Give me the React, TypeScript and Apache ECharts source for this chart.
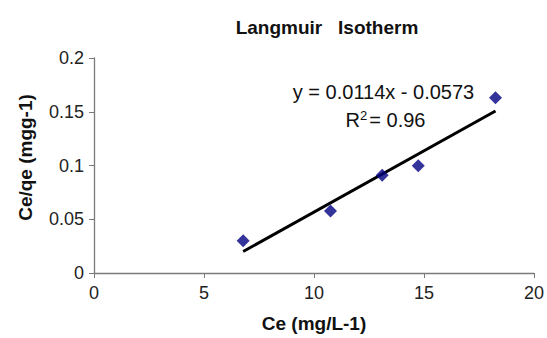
import React, { useEffect, useRef } from "react";
import * as echarts from "echarts";

const ceValues = [6.78, 10.75, 13.1, 14.74, 18.25];
const ceQeValues = [0.03, 0.0577, 0.091, 0.0997, 0.163];
const slope = 0.0114;
const intercept = -0.0573;
const titleText = "Langmuir   Isotherm";
const xLabel = "Ce (mg/L-1)";
const yLabel = "Ce/qe (mgg-1)";
const equationText = "y = 0.0114x - 0.0573";

export default function App() {
  const ref = useRef<HTMLDivElement>(null);
  useEffect(() => {
    if (!ref.current) return;
    const chart = echarts.init(ref.current, undefined, { renderer: "svg" });
    const xMin = Math.min(...ceValues);
    const xMax = Math.max(...ceValues);
    const trend = [
      [xMin, slope * xMin + intercept],
      [xMax, slope * xMax + intercept],
    ];
    const font = "Liberation Sans, Arial, sans-serif";
    chart.setOption({
      animation: false,
      backgroundColor: "#fff",
      title: {
        text: titleText,
        left: 322,
        top: 13,
        textAlign: "center",
        textStyle: { fontFamily: font, fontSize: 19, fontWeight: "bold", color: "#111" },
      },
      grid: { left: 94, right: 11, top: 58, bottom: 63 },
      xAxis: {
        type: "value",
        min: 0,
        max: 20,
        interval: 5,
        name: xLabel,
        nameLocation: "middle",
        nameGap: 41,
        nameTextStyle: { fontFamily: font, fontSize: 19, fontWeight: "bold", color: "#111", padding: [0, 0, 0, 0] },
        axisLine: { lineStyle: { color: "#7a7a7a", width: 1.3 } },
        axisTick: { inside: false, length: 5, lineStyle: { color: "#7a7a7a" } },
        axisLabel: { fontFamily: font, fontSize: 18, color: "#222", margin: 11 },
        splitLine: { show: false },
      },
      yAxis: {
        type: "value",
        min: 0,
        max: 0.2,
        interval: 0.05,
        name: yLabel,
        nameLocation: "middle",
        nameGap: 59,
        nameTextStyle: { fontFamily: font, fontSize: 19, fontWeight: "bold", color: "#111", padding: [0, 0, 0, 16] },
        axisLine: { show: true, lineStyle: { color: "#7a7a7a", width: 1.3 } },
        axisTick: { show: true, inside: false, length: 5, lineStyle: { color: "#7a7a7a" } },
        axisLabel: { fontFamily: font, fontSize: 18, color: "#222", margin: 10 },
        splitLine: { show: false },
      },
      series: [
        {
          type: "line",
          data: trend,
          showSymbol: false,
          symbol: "none",
          lineStyle: { color: "#000", width: 3 },
          z: 2,
        },
        {
          type: "scatter",
          data: ceValues.map((x, i) => [x, ceQeValues[i]]),
          symbol: "diamond",
          symbolSize: 13,
          itemStyle: { color: "#000080" },
          z: 3,
        },
      ],
      graphic: [
        {
          type: "text",
          x: 383.5,
          y: 91.5,
          style: {
            text: equationText,
            fontFamily: font,
            fontSize: 20,
            fill: "#111",
            align: "center",
            verticalAlign: "middle",
          },
        },
        {
          type: "text",
          x: 385.5,
          y: 120,
          style: {
            text: "R{s|2}= 0.96",
            fontFamily: font,
            fontSize: 20,
            fill: "#111",
            align: "center",
            verticalAlign: "middle",
            rich: {
              s: { fontSize: 13, fontFamily: font, fill: "#111", verticalAlign: "top", padding: [0, 2, 10, 0] },
            },
          },
        },
      ],
    });
    return () => chart.dispose();
  }, []);
  return <div ref={ref} style={{ width: 547, height: 338, position: "absolute", left: 0, top: 0 }} />;
}
